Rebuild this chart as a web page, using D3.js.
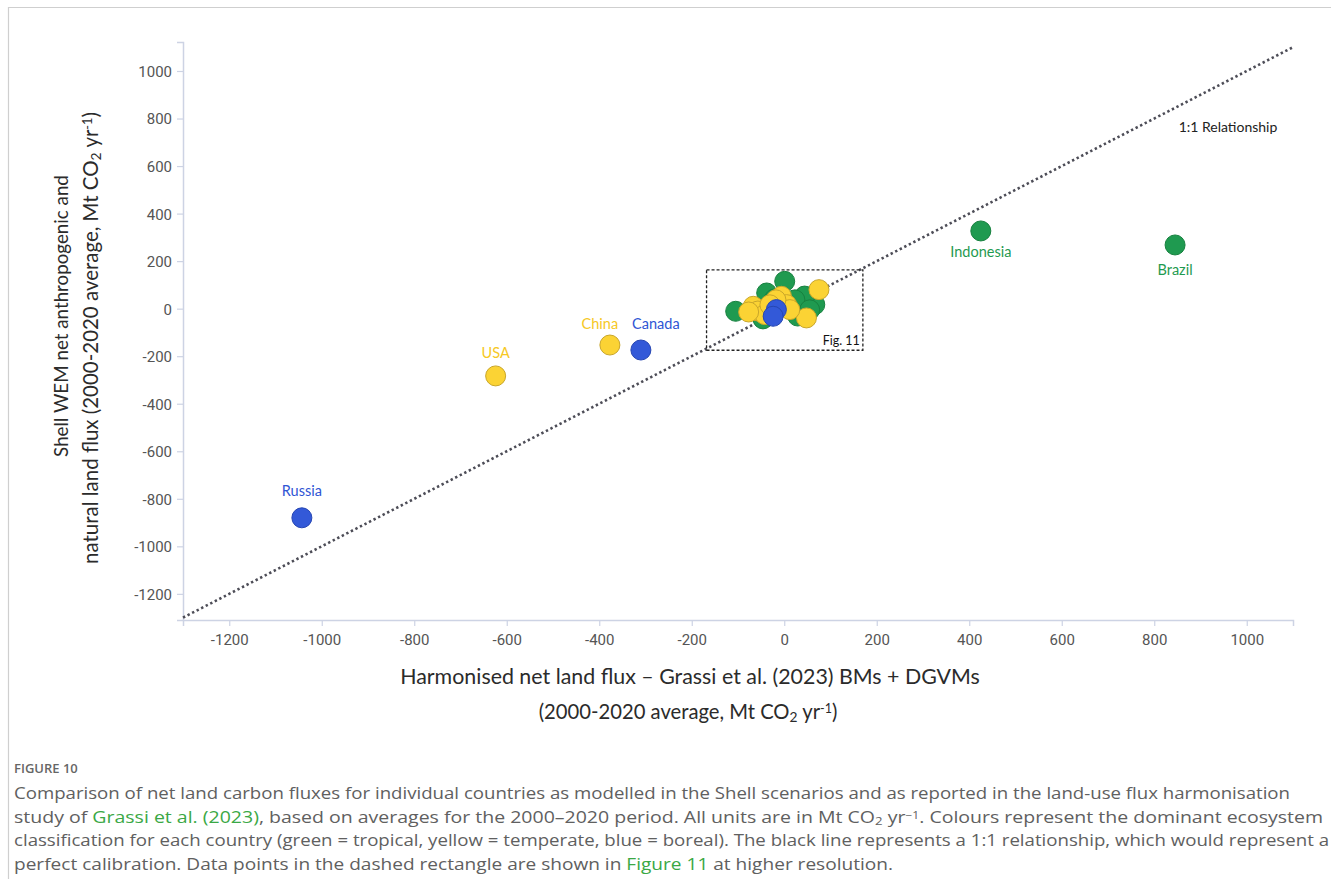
<!DOCTYPE html>
<html><head><meta charset="utf-8">
<script src="https://cdn.jsdelivr.net/npm/d3@7"></script>
<style>body{margin:0;background:#fff} svg{display:block}</style>
</head><body><svg id="c" width="1331" height="879"></svg>
<script>
// ---------------- DATA ----------------
const labeledCountries = ["Russia", "USA", "China", "Canada", "Indonesia", "Brazil"];
const labeledX = [-1043, -624, -377, -310, 425, 845];
const labeledY = [-880, -283, -153, -174, 327, 268];
const labeledGroup = ["boreal", "temperate", "temperate", "boreal", "tropical", "tropical"];

// Small-flux countries (cluster shown in Fig. 11)
const clusterGroup = ["tropical","tropical","tropical","tropical","tropical","tropical","tropical","tropical","tropical","tropical",
  "temperate","temperate","temperate","temperate","temperate","temperate","temperate","temperate","temperate","temperate","temperate",
  "boreal","boreal"];
const clusterX = [1, -105, -38, 66, 44, 23, -46, 29, -21, 55,
  75, 48, -67, -57, -6, 5, -42, 12, -18, -77, -31,
  -17, -24];
const clusterY = [115, -11, 66, 17, 53, 37, -43, -31, 41, -5,
  80, -39, 10, -10, 52, 17, -25, -4, 37, -14, 16,
  -4, -32];

const xTickValues = [-1200, -1000, -800, -600, -400, -200, 0, 200, 400, 600, 800, 1000];
const yTickValues = [-1200, -1000, -800, -600, -400, -200, 0, 200, 400, 600, 800, 1000];
const oneToOneLine = [-1300, 1100];
const figBoxX = [-168, 170];
const figBoxY = [-175, 163];

// ---------------- STYLE ----------------
const fillColor = {tropical: "#1f9a50", temperate: "#fbd334", boreal: "#3359d8"};
const strokeColor = {tropical: "#17813f", temperate: "#c9a62a", boreal: "#2646b3"};
const labelColor = {tropical: "#1f9a50", temperate: "#f6c824", boreal: "#2f55d4"};
const labelOffset = {Russia: [0, -27], USA: [0, -23], China: [-10, -21], Canada: [15, -26], Indonesia: [0, 21], Brazil: [0, 25]};

const svg = d3.select("#c");
const W = 1331, H = 879;

// frame
svg.append("line").attr("x1", 8).attr("x2", W).attr("y1", 7.5).attr("y2", 7.5).attr("stroke", "#cfcfcf").attr("stroke-width", 1.2);
svg.append("line").attr("x1", 8.5).attr("x2", 8.5).attr("y1", 7).attr("y2", H).attr("stroke", "#cfcfcf").attr("stroke-width", 1.2);

const x = d3.scaleLinear().domain([-1300, 1100]).range([183, 1293]);
const y = d3.scaleLinear().domain([-1310, 1122]).range([620, 42]);

const axisColor = "#cdd3e4";
const fmt = d => String(d);
const gx = svg.append("g").attr("transform", "translate(0,620)")
  .call(d3.axisBottom(x).tickValues(xTickValues).tickSizeOuter(0).tickSize(6).tickPadding(8).tickFormat(fmt));
const gy = svg.append("g").attr("transform", "translate(183,0)")
  .call(d3.axisLeft(y).tickValues(yTickValues).tickSizeOuter(0).tickSize(6).tickPadding(5).tickFormat(fmt));
[gx, gy].forEach(g => {
  g.select(".domain").attr("stroke", axisColor).attr("stroke-width", 1.5);
  g.selectAll(".tick line").attr("stroke", axisColor).attr("stroke-width", 1.2);
  g.selectAll(".tick text").attr("fill", "#555").style("font-family", "Roboto, 'Open Sans', sans-serif").style("font-size", "15px");
});
gy.selectAll(".tick text").attr("dy", "0.36em");

// 1:1 line
svg.append("line")
  .attr("x1", x(oneToOneLine[0])).attr("y1", y(oneToOneLine[0]))
  .attr("x2", x(oneToOneLine[1])).attr("y2", y(oneToOneLine[1]))
  .attr("stroke", "#4d4d57").attr("stroke-width", 2.6).attr("stroke-dasharray", "2.4,2.7");

svg.append("text").attr("x", 1228).attr("y", 132).attr("text-anchor", "middle")
  .style("font-family", "Lato, sans-serif").style("font-size", "14px").attr("fill", "#222")
  .text("1:1 Relationship");

// cluster points
const cluster = clusterX.map((v, i) => ({x: v, y: clusterY[i], g: clusterGroup[i]}));
const order = {tropical: 0, temperate: 1, boreal: 2};
cluster.sort((a, b) => order[a.g] - order[b.g]);
svg.append("g").selectAll("circle").data(cluster).join("circle")
  .attr("cx", d => x(d.x)).attr("cy", d => y(d.y)).attr("r", 10)
  .attr("fill", d => fillColor[d.g]).attr("stroke", d => strokeColor[d.g]).attr("stroke-width", 1);

// dashed rectangle
svg.append("rect")
  .attr("x", x(figBoxX[0])).attr("y", y(figBoxY[1]))
  .attr("width", x(figBoxX[1]) - x(figBoxX[0])).attr("height", y(figBoxY[0]) - y(figBoxY[1]))
  .attr("fill", "none").attr("stroke", "#222").attr("stroke-width", 1.3).attr("stroke-dasharray", "3,2");
svg.append("text").attr("x", x(figBoxX[1]) - 3).attr("y", y(figBoxY[0]) - 5).attr("text-anchor", "end")
  .style("font-family", "Lato, sans-serif").style("font-size", "12.5px").attr("fill", "#111").text("Fig. 11");

// labelled points
const labeled = labeledCountries.map((n, i) => ({n, x: labeledX[i], y: labeledY[i], g: labeledGroup[i]}));
svg.append("g").selectAll("circle").data(labeled).join("circle")
  .attr("cx", d => x(d.x)).attr("cy", d => y(d.y)).attr("r", 10)
  .attr("fill", d => fillColor[d.g]).attr("stroke", d => strokeColor[d.g]).attr("stroke-width", 1);
svg.append("g").selectAll("text").data(labeled).join("text")
  .attr("x", d => x(d.x) + labelOffset[d.n][0]).attr("y", d => y(d.y) + labelOffset[d.n][1])
  .attr("dy", "0.35em").attr("text-anchor", "middle")
  .style("font-family", "Lato, sans-serif").style("font-size", "14.5px")
  .attr("fill", d => labelColor[d.g]).text(d => d.n);

// rich text helper
function rich(parent, segs, fs) {
  segs.forEach(s => {
    const t = parent.append("tspan").text(s.t);
    if (s.sub) t.attr("baseline-shift", "-22%").attr("data-r", 0.68);
    if (s.sup) t.attr("baseline-shift", "45%").attr("data-r", 0.62);
    if (s.color) t.attr("fill", s.color);
  });
  setSize(parent, fs);
}
function setSize(textSel, fs) {
  textSel.style("font-size", fs + "px");
  textSel.selectAll("tspan").each(function() {
    const el = d3.select(this);
    const r = el.attr("data-r");
    if (r) el.style("font-size", (fs * +r) + "px");
  });
}
function fit(textSel, target, fs) {
  const w = textSel.node().getComputedTextLength();
  const f = fs * target / w;
  setSize(textSel, f);
  return f;
}

// axis titles
const titleFont = "Lato, 'Noto Sans', sans-serif";
const xt1 = svg.append("text").attr("x", 690).attr("y", 684).attr("text-anchor", "middle")
  .style("font-family", titleFont).style("font-size", "18px").attr("fill", "#2b2b2b")
  .text("Harmonised net land flux \u2013 Grassi et al. (2023) BMs + DGVMs");
fit(xt1, 580, 18);
const xt2 = svg.append("text").attr("x", 688).attr("y", 719).attr("text-anchor", "middle")
  .style("font-family", titleFont).attr("fill", "#2b2b2b");
rich(xt2, [{t: "(2000-2020 average, Mt CO"}, {t: "2", sub: true}, {t: " yr"}, {t: "-1", sup: true}, {t: ")"}], 18);
fit(xt2, 299, 18);

const yt2 = svg.append("text").attr("transform", "translate(98,338) rotate(-90)").attr("text-anchor", "middle")
  .style("font-family", titleFont).attr("fill", "#2b2b2b");
rich(yt2, [{t: "natural land flux (2000-2020 average, Mt CO"}, {t: "2", sub: true}, {t: " yr"}, {t: "-1", sup: true}, {t: ")"}], 17);
fit(yt2, 452, 17);
const yt1 = svg.append("text").attr("transform", "translate(68,316) rotate(-90)").attr("text-anchor", "middle")
  .style("font-family", titleFont).style("font-size", "17px").attr("fill", "#2b2b2b")
  .text("Shell WEM net anthropogenic and");
fit(yt1, 282, 17);

// caption
const capFont = "'Open Sans', sans-serif";
svg.append("text").attr("x", 14).attr("y", 773)
  .style("font-family", capFont).style("font-size", "13px").style("font-weight", 600).attr("fill", "#666")
  .text("FIGURE 10");
const green = "#3aa845";
const capLines = [
  [{t: "Comparison of net land carbon fluxes for individual countries as modelled in the Shell scenarios and as reported in the land-use flux harmonisation"}],
  [{t: "study of "}, {t: "Grassi et al. (2023)", color: green}, {t: ", based on averages for the 2000\u20132020 period. All units are in Mt CO"}, {t: "2", sub: true}, {t: " yr"}, {t: "\u22121", sup: true}, {t: ". Colours represent the dominant ecosystem"}],
  [{t: "classification for each country (green = tropical, yellow = temperate, blue = boreal). The black line represents a 1:1 relationship, which would represent a"}],
  [{t: "perfect calibration. Data points in the dashed rectangle are shown in "}, {t: "Figure 11", color: green}, {t: " at higher resolution."}]
];
const capBase = [799, 823, 846, 870];
const capTargets = [1276, 1309, 1315, 879];
capLines.forEach((segs, i) => {
  const t = svg.append("text").attr("x", 14).attr("y", capBase[i])
    .style("font-family", capFont).attr("fill", "#606060");
  rich(t, segs, 16.5);
  t.attr("textLength", capTargets[i]).attr("lengthAdjust", "spacingAndGlyphs");
});
</script>
</body></html>
